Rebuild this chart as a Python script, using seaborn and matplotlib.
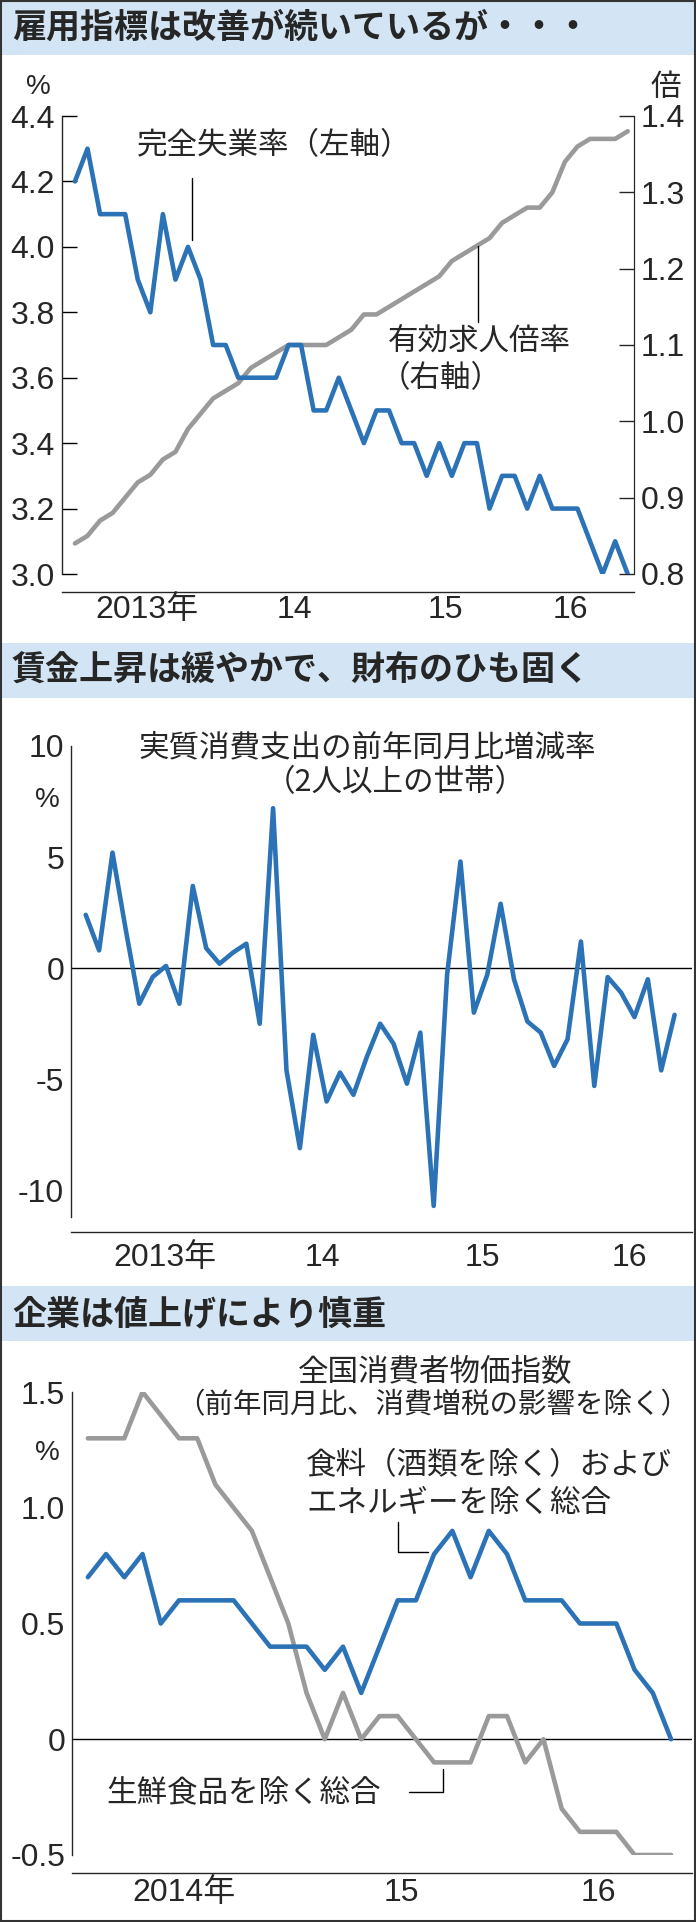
import matplotlib
matplotlib.use("Agg")
import matplotlib.pyplot as plt
from matplotlib import font_manager
from matplotlib.patches import Rectangle
from matplotlib.transforms import blended_transform_factory
import seaborn as sns
import numpy as np

# ---------------- data ----------------
unemp = [4.2, 4.3, 4.1, 4.1, 4.1, 3.9, 3.8, 4.1, 3.9, 4.0, 3.9, 3.7,
         3.7, 3.6, 3.6, 3.6, 3.6, 3.7, 3.7, 3.5, 3.5, 3.6, 3.5, 3.4,
         3.5, 3.5, 3.4, 3.4, 3.3, 3.4, 3.3, 3.4, 3.4, 3.2, 3.3, 3.3,
         3.2, 3.3, 3.2, 3.2, 3.2, 3.1, 3.0, 3.1, 3.0]
jobs = [0.84, 0.85, 0.87, 0.88, 0.90, 0.92, 0.93, 0.95, 0.96, 0.99, 1.01, 1.03,
        1.04, 1.05, 1.07, 1.08, 1.09, 1.10, 1.10, 1.10, 1.10, 1.11, 1.12, 1.14,
        1.14, 1.15, 1.16, 1.17, 1.18, 1.19, 1.21, 1.22, 1.23, 1.24, 1.26, 1.27,
        1.28, 1.28, 1.30, 1.34, 1.36, 1.37, 1.37, 1.37, 1.38]
spend = [2.4, 0.8, 5.2, 1.7, -1.6, -0.4, 0.1, -1.6, 3.7, 0.9, 0.2, 0.7,
         1.1, -2.5, 7.2, -4.6, -8.1, -3.0, -6.0, -4.7, -5.7, -4.0, -2.5, -3.4,
         -5.2, -2.9, -10.7, -0.3, 4.8, -2.0, -0.3, 2.9, -0.5, -2.4, -2.9, -4.4,
         -3.2, 1.2, -5.3, -0.4, -1.1, -2.2, -0.5, -4.6, -2.1]
cpi_core_core = [0.7, 0.8, 0.7, 0.8, 0.5, 0.6, 0.6, 0.6, 0.6, 0.5, 0.4, 0.4,
                 0.4, 0.3, 0.4, 0.2, 0.4, 0.6, 0.6, 0.8, 0.9, 0.7, 0.9, 0.8,
                 0.6, 0.6, 0.6, 0.5, 0.5, 0.5, 0.3, 0.2, 0.0]
cpi_core = [1.3, 1.3, 1.3, 1.5, 1.4, 1.3, 1.3, 1.1, 1.0, 0.9, 0.7, 0.5,
            0.2, 0.0, 0.2, 0.0, 0.1, 0.1, 0.0, -0.1, -0.1, -0.1, 0.1, 0.1,
            -0.1, 0.0, -0.3, -0.4, -0.4, -0.4, -0.5, -0.5, -0.5]
labels_a = ["2013年", "14", "15", "16"]
labels_c = ["2014年", "15", "16"]

# ---------------- style ----------------
sns.set_style("white")
avail = {f.name for f in font_manager.fontManager.ttflist}
narrow = "Liberation Sans Narrow" if "Liberation Sans Narrow" in avail else "Liberation Sans"
JP = "Noto Sans CJK JP"
plt.rcParams["font.family"] = [JP, "DejaVu Sans"]

BLUE = "#2b73b6"
GRAY = "#9a9a9a"
W, H = 696, 1922
TXT = 22
TICK = 23
fig = plt.figure(figsize=(W / 100, H / 100), dpi=100)
fig.patch.set_facecolor("white")


def box(l, r, t, b):
    return [l / W, 1 - b / H, (r - l) / W, (b - t) / H]


def header(top, bot, text):
    fig.add_artist(Rectangle((0, 1 - bot / H), 1, (bot - top) / H,
                             transform=fig.transFigure, facecolor="#d3e5f4",
                             edgecolor="none", zorder=0))
    fig.text(12 / W, 1 - (top + bot) / 2 / H, text, fontsize=24.5, fontweight="bold",
             family=JP, va="center", ha="left")


def style_axis(ax, n, xl, years, outward):
    ax.set_xlim(*xl)
    ax.spines["top"].set_visible(False)
    ax.spines["bottom"].set_position(("outward", outward))
    ax.spines["left"].set_linewidth(1.0)
    ax.spines["bottom"].set_linewidth(1.0)
    ax.set_xticks(np.arange(n), minor=True)
    ax.set_xticks(years)
    ax.set_xticklabels([])
    ax.tick_params(axis="x", which="minor", direction="in", length=8, width=1, color="black")
    ax.tick_params(axis="x", which="major", direction="out", length=9, width=1, color="black")
    ax.tick_params(axis="y", direction="in", length=11, width=1, color="black",
                   labelsize=TICK, pad=5)
    for lab in ax.get_yticklabels():
        lab.set_family([narrow, "DejaVu Sans"])
    ax.set_xlabel("")
    ax.set_ylabel("")


# ---------------- panel 1 ----------------
header(0, 55, "雇用指標は改善が続いているが・・・")
x1 = np.arange(len(unemp))
ax1 = fig.add_axes(box(62, 634, 116, 574))
ax1b = ax1.twinx()
sns.lineplot(x=x1, y=jobs, ax=ax1b, color=GRAY, lw=3.3, zorder=2)
sns.lineplot(x=x1, y=unemp, ax=ax1, color=BLUE, lw=3.3, zorder=3)
ax1.set_zorder(ax1b.get_zorder() + 1)
ax1.patch.set_visible(False)
ax1.set_ylim(3.0, 4.4)
ax1.set_yticks([3.0, 3.2, 3.4, 3.6, 3.8, 4.0, 4.2, 4.4])
ax1.set_yticklabels(["3.0", "3.2", "3.4", "3.6", "3.8", "4.0", "4.2", "4.4"])
style_axis(ax1, 45, (-1.03, 44.5), [11.5, 23.5, 35.5], 13)
ax1b.set_ylim(0.8, 1.4)
ax1b.set_yticks([0.8, 0.9, 1.0, 1.1, 1.2, 1.3, 1.4])
ax1b.set_yticklabels(["0.8", "0.9", "1.0", "1.1", "1.2", "1.3", "1.4"])
for s in ["top", "bottom", "left"]:
    ax1b.spines[s].set_visible(False)
ax1b.tick_params(axis="y", direction="in", length=11, width=1, labelsize=TICK, pad=5)
for lab in ax1b.get_yticklabels():
    lab.set_family([narrow, "DejaVu Sans"])
ax1b.set_ylabel("")
tr = blended_transform_factory(ax1.transData, ax1.transAxes)
for xp, lab in zip([5.7, 17.5, 29.5, 39.4], labels_a):
    ax1.text(xp, -0.078, lab, transform=tr, ha="center", va="center", fontsize=TICK,
             family=[narrow, JP])
fig.text(38 / W, 1 - 87 / H, "%", fontsize=20, family=[narrow], ha="center", va="center")
fig.text(666 / W, 1 - 87 / H, "倍", fontsize=TXT, family=JP, ha="center", va="center")
ax1.text(4.9, 4.31, "完全失業率（左軸）", fontsize=TXT, family=JP, va="center", ha="left")
ax1.plot([9.35, 9.35], [4.21, 4.02], color="black", lw=1)
ax1b.plot([32.1, 32.1], [1.23, 1.13], color="black", lw=1)
fig.text(388 / W, 1 - 342 / H, "有効求人倍率", fontsize=TXT, family=JP, va="center")
fig.text(380 / W, 1 - 379 / H, "（右軸）", fontsize=TXT, family=JP, va="center")

# ---------------- panel 2 ----------------
header(643, 698, "賃金上昇は緩やかで、財布のひも固く")
x2 = np.arange(len(spend))
ax2 = fig.add_axes(box(71, 692, 746, 1217))
sns.lineplot(x=x2, y=spend, ax=ax2, color=BLUE, lw=3.3, zorder=3)
ax2.axhline(0, color="black", lw=1, zorder=2)
ax2.set_ylim(-11.2, 10)
ax2.set_yticks([-10, -5, 0, 5, 10])
ax2.set_yticklabels(["-10", "-5", "0", "5", "10"])
ax2.spines["right"].set_visible(False)
style_axis(ax2, 45, (-1.1, 45.3), [11.5, 23.5, 35.5], 11)
tr = blended_transform_factory(ax2.transData, ax2.transAxes)
for xp, lab in zip([5.9, 17.7, 29.6, 40.6], labels_a):
    ax2.text(xp, -0.088, lab, transform=tr, ha="center", va="center", fontsize=TICK,
             family=[narrow, JP])
fig.text(138 / W, 1 - 748 / H, "実質消費支出の前年同月比増減率", fontsize=TXT, family=JP, va="center")
fig.text(395 / W, 1 - 783 / H, "（2人以上の世帯）", fontsize=TXT, family=JP, va="center", ha="center")
fig.text(47 / W, 1 - 800 / H, "%", fontsize=20, family=[narrow], ha="center", va="center")

# ---------------- panel 3 ----------------
header(1286, 1341, "企業は値上げにより慎重")
x3 = np.arange(len(cpi_core))
ax3 = fig.add_axes(box(72, 692, 1392, 1855))
sns.lineplot(x=x3, y=cpi_core, ax=ax3, color=GRAY, lw=3.3, zorder=3)
sns.lineplot(x=x3, y=cpi_core_core, ax=ax3, color=BLUE, lw=3.3, zorder=4)
ax3.axhline(0, color="black", lw=1, zorder=2)
ax3.set_ylim(-0.5, 1.5)
ax3.set_yticks([-0.5, 0, 0.5, 1.0, 1.5])
ax3.set_yticklabels(["-0.5", "0", "0.5", "1.0", "1.5"])
ax3.spines["right"].set_visible(False)
style_axis(ax3, 33, (-0.87, 33.15), [11.5, 23.5], 13)
tr = blended_transform_factory(ax3.transData, ax3.transAxes)
for xp, lab in zip([5.3, 17.2, 28.0], labels_c):
    ax3.text(xp, -0.082, lab, transform=tr, ha="center", va="center", fontsize=TICK,
             family=[narrow, JP])
fig.text(435 / W, 1 - 1372 / H, "全国消費者物価指数", fontsize=TXT, family=JP, va="center", ha="center")
fig.text(433 / W, 1 - 1405 / H, "（前年同月比、消費増税の影響を除く）", fontsize=20.5, family=JP,
         va="center", ha="center")
fig.text(47 / W, 1 - 1453 / H, "%", fontsize=20, family=[narrow], ha="center", va="center")
fig.text(306 / W, 1 - 1466 / H, "食料（酒類を除く）および", fontsize=TXT, family=JP, va="center")
fig.text(306 / W, 1 - 1504 / H, "エネルギーを除く総合", fontsize=TXT, family=JP, va="center")
ax3.plot([17.0, 17.0, 18.66], [0.94, 0.81, 0.81], color="black", lw=1)
fig.text(106 / W, 1 - 1793 / H, "生鮮食品を除く総合", fontsize=TXT, family=JP, va="center")
ax3.plot([17.6, 19.5, 19.5], [-0.23, -0.23, -0.13], color="black", lw=1)

# frame
fig.add_artist(Rectangle((0.001, 0.0005), 0.998, 0.999, transform=fig.transFigure,
                         facecolor="none", edgecolor="#333333", lw=1.5))

fig.savefig("out.png", dpi=100)
